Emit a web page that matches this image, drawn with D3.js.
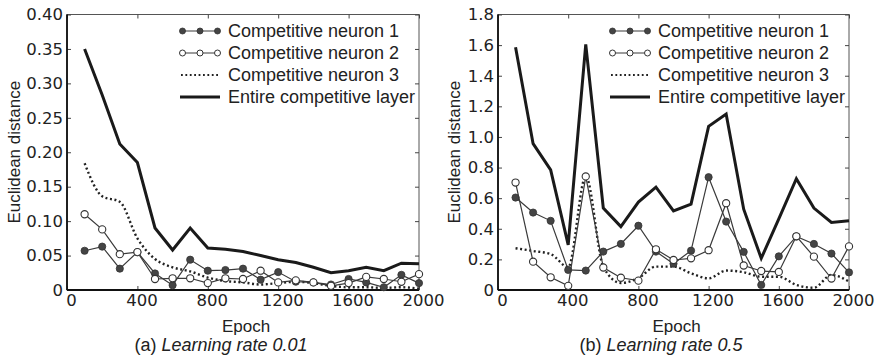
<!DOCTYPE html>
<html><head><meta charset="utf-8">
<script src="https://cdn.jsdelivr.net/npm/d3@7"></script>
<style>body{margin:0;background:#fff}</style>
</head><body><svg id="c" width="875" height="360"></svg>
<script>
const epochs = [100,200,300,400,500,600,700,800,900,1000,1100,1200,1300,1400,1500,1600,1700,1800,1900,2000];
const xTicks = [0,400,800,1200,1600,2000];
const xTickLabels = ["0","400","800","1200","1600","2000"];
const yTicksA = [0,0.05,0.10,0.15,0.20,0.25,0.30,0.35,0.40];
const yTickLabelsA = ["0","0.05","0.10","0.15","0.20","0.25","0.30","0.35","0.40"];
const yTicksB = [0,0.2,0.4,0.6,0.8,1.0,1.2,1.4,1.6,1.8];
const yTickLabelsB = ["0","0.2","0.4","0.6","0.8","1.0","1.2","1.4","1.6","1.8"];
const seriesNames = ["Competitive neuron 1","Competitive neuron 2","Competitive neuron 3","Entire competitive layer"];
const xTitle = "Epoch";
const yTitle = "Euclidean distance";

// (a) learning rate 0.01
const neuron1A = [0.057,0.063,0.031,0.055,0.024,0.007,0.044,0.028,0.029,0.031,0.015,0.026,0.012,0.011,0.008,0.016,0.011,0.004,0.022,0.010];
const neuron2A = [0.110,0.088,0.052,0.055,0.016,0.017,0.017,0.010,0.017,0.016,0.028,0.011,0.014,0.011,0.006,0.010,0.019,0.016,0.012,0.023];
const neuron3A = [0.184,0.136,0.128,0.075,0.045,0.033,0.027,0.018,0.013,0.011,0.008,0.010,0.012,0.010,0.006,0.004,0.004,0.003,0.004,0.002];
const layerA   = [0.350,0.283,0.212,0.185,0.090,0.058,0.090,0.061,0.059,0.056,0.050,0.044,0.040,0.033,0.025,0.028,0.033,0.028,0.039,0.038];

// (b) learning rate 0.5
const neuron1B = [0.604,0.506,0.452,0.131,0.127,0.251,0.301,0.420,0.251,0.172,0.257,0.737,0.447,0.249,0.033,0.220,0.350,0.301,0.238,0.115];
const neuron2B = [0.702,0.185,0.083,0.027,0.742,0.147,0.080,0.061,0.266,0.196,0.207,0.260,0.567,0.160,0.124,0.118,0.351,0.218,0.075,0.285];
const neuron3B = [0.273,0.255,0.235,0.150,0.742,0.152,0.046,0.078,0.153,0.153,0.109,0.076,0.127,0.116,0.087,0.087,0.033,0.015,0.098,0.055];
const layerB   = [1.586,0.956,0.785,0.295,1.605,0.535,0.414,0.574,0.672,0.517,0.561,1.069,1.150,0.528,0.207,0.465,0.727,0.535,0.441,0.452];

const captionA = ["(a) ", "Learning rate 0.01"];
const captionB = ["(b) ", "Learning rate 0.5"];

const svg = d3.select("#c");
svg.append("rect").attr("width",875).attr("height",360).attr("fill","#fff");

const FONT = "'Liberation Sans', Arial, sans-serif";
const TICKFONT = "'DejaVu Sans', sans-serif";
const INK = "#222";

function panel(cfg){
  const g = svg.append("g");
  const x = d3.scaleLinear().domain([0,2000]).range([cfg.L, cfg.R]);
  const y = d3.scaleLinear().domain([0,cfg.ymax]).range([cfg.B, cfg.T]);

  // frame (top / right thin)
  g.append("rect").attr("x",cfg.L).attr("y",cfg.T).attr("width",cfg.R-cfg.L).attr("height",cfg.B-cfg.T)
    .attr("fill","none").attr("stroke","#555").attr("stroke-width",1);

  const styleAxis = (sel)=>{
    sel.select(".domain").remove();
    sel.selectAll(".tick line").attr("stroke","#444").attr("stroke-width",1);
    sel.selectAll(".tick text").attr("fill",INK).attr("font-family",TICKFONT).attr("font-size","16.5px");
  };
  const bx = g.append("g").attr("transform",`translate(0,${cfg.B})`)
    .call(d3.axisBottom(x).tickValues(xTicks).tickFormat((d,i)=>xTickLabels[i]).tickSize(-4).tickPadding(4));
  styleAxis(bx); bx.selectAll(".tick text").attr("dx",4);
  const tx = g.append("g").attr("transform",`translate(0,${cfg.T})`)
    .call(d3.axisTop(x).tickValues(xTicks).tickFormat("").tickSize(-4));
  styleAxis(tx);
  const ly = g.append("g").attr("transform",`translate(${cfg.L},0)`)
    .call(d3.axisLeft(y).tickValues(cfg.yTicks).tickFormat((d,i)=>cfg.yLabels[i]).tickSize(-4).tickPadding(4));
  styleAxis(ly);
  const ry = g.append("g").attr("transform",`translate(${cfg.R},0)`)
    .call(d3.axisRight(y).tickValues(cfg.yTicks).tickFormat("").tickSize(-4));
  styleAxis(ry);

  // left & bottom thick axes
  g.append("line").attr("x1",cfg.L).attr("x2",cfg.L).attr("y1",cfg.T).attr("y2",cfg.B).attr("stroke","#111").attr("stroke-width",1.8);
  g.append("line").attr("x1",cfg.L).attr("x2",cfg.R).attr("y1",cfg.B).attr("y2",cfg.B).attr("stroke","#111").attr("stroke-width",1.8);

  const line = d3.line().x((d,i)=>x(epochs[i])).y(d=>y(d));
  const smooth = d3.line().x((d,i)=>x(epochs[i])).y(d=>y(d)).curve(d3.curveMonotoneX);

  g.append("path").datum(cfg.n3).attr("d",smooth).attr("fill","none").attr("stroke","#222")
    .attr("stroke-width",2.4).attr("stroke-dasharray","2,2.6");
  g.append("path").datum(cfg.layer).attr("d",line).attr("fill","none").attr("stroke","#1a1a1a")
    .attr("stroke-width",3).attr("stroke-linejoin","miter");
  g.append("path").datum(cfg.n1).attr("d",line).attr("fill","none").attr("stroke","#3a3a3a").attr("stroke-width",1.2);
  g.selectAll(".m1").data(cfg.n1).enter().append("circle")
    .attr("cx",(d,i)=>x(epochs[i])).attr("cy",d=>y(d)).attr("r",3.6).attr("fill","#444").attr("stroke","#333").attr("stroke-width",0.8);
  g.append("path").datum(cfg.n2).attr("d",line).attr("fill","none").attr("stroke","#3a3a3a").attr("stroke-width",1.2);
  g.selectAll(".m2").data(cfg.n2).enter().append("circle")
    .attr("cx",(d,i)=>x(epochs[i])).attr("cy",d=>y(d)).attr("r",3.6).attr("fill","#fff").attr("stroke","#333").attr("stroke-width",1.1);

  // legend
  const lx0 = cfg.R - 238, lx1 = cfg.R - 200, tx0 = cfg.R - 191;
  const rows = [31,53,75,97];
  const lg = g.append("g");
  // row 1
  lg.append("line").attr("x1",lx0).attr("x2",lx1).attr("y1",rows[0]).attr("y2",rows[0]).attr("stroke","#3a3a3a").attr("stroke-width",1.2);
  [lx0+1.5,(lx0+lx1)/2,lx1-1.5].forEach(cx=>lg.append("circle").attr("cx",cx).attr("cy",rows[0]).attr("r",3).attr("fill","#444").attr("stroke","#333").attr("stroke-width",0.8));
  lg.append("line").attr("x1",lx0).attr("x2",lx1).attr("y1",rows[1]).attr("y2",rows[1]).attr("stroke","#3a3a3a").attr("stroke-width",1.2);
  [lx0+1.5,(lx0+lx1)/2,lx1-1.5].forEach(cx=>lg.append("circle").attr("cx",cx).attr("cy",rows[1]).attr("r",3).attr("fill","#fff").attr("stroke","#333").attr("stroke-width",1));
  lg.append("line").attr("x1",lx0).attr("x2",lx1).attr("y1",rows[2]).attr("y2",rows[2]).attr("stroke","#222").attr("stroke-width",2).attr("stroke-dasharray","1.8,2.6");
  lg.append("line").attr("x1",lx0-1).attr("x2",lx1+1).attr("y1",rows[3]).attr("y2",rows[3]).attr("stroke","#1a1a1a").attr("stroke-width",3);
  seriesNames.forEach((s,i)=>lg.append("text").attr("x",tx0).attr("y",rows[i]+6.3).text(s)
    .attr("font-family",FONT).attr("font-size","18px").attr("fill",INK));

  // titles
  g.append("text").attr("x",(cfg.L+cfg.R)/2+3).attr("y",332).attr("text-anchor","middle").text(xTitle)
    .attr("font-family",FONT).attr("font-size","17px").attr("fill",INK);
  g.append("text").attr("transform",`translate(${cfg.yTitleX},${(cfg.T+cfg.B)/2}) rotate(-90)`).attr("text-anchor","middle")
    .text(yTitle).attr("font-family",FONT).attr("font-size","17px").attr("fill",INK);
  const cap = g.append("text").attr("x",cfg.capX).attr("y",351).attr("text-anchor","middle")
    .attr("font-family",FONT).attr("font-size","18px").attr("fill",INK);
  cap.append("tspan").text(cfg.caption[0]);
  cap.append("tspan").attr("font-style","italic").text(cfg.caption[1]);
}

panel({L:67,R:419,T:14.5,B:290,ymax:0.40,yTicks:yTicksA,yLabels:yTickLabelsA,
  n1:neuron1A,n2:neuron2A,n3:neuron3A,layer:layerA,yTitleX:20,capX:221,caption:captionA});
panel({L:498,R:849,T:14.5,B:290,ymax:1.8,yTicks:yTicksB,yLabels:yTickLabelsB,
  n1:neuron1B,n2:neuron2B,n3:neuron3B,layer:layerB,yTitleX:460,capX:661,caption:captionB});
</script></body></html>
